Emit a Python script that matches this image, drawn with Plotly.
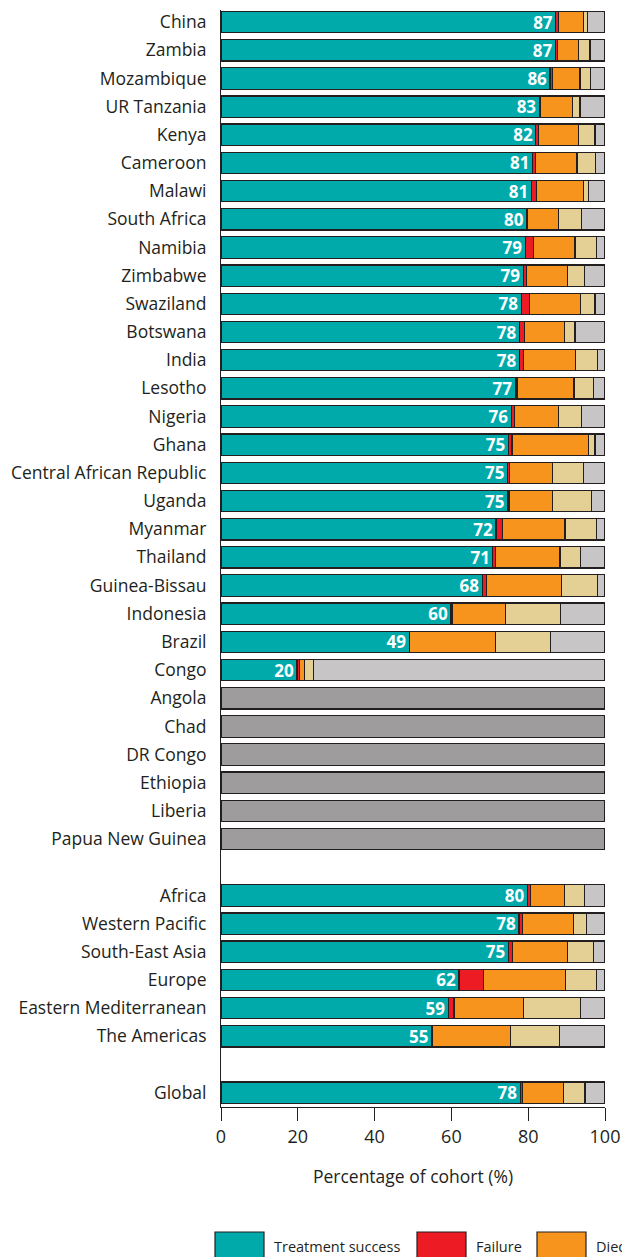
import plotly.graph_objects as go

# ---------------- data ----------------
countries = ["China", "Zambia", "Mozambique", "UR Tanzania", "Kenya", "Cameroon", "Malawi",
             "South Africa", "Namibia", "Zimbabwe", "Swaziland", "Botswana", "India", "Lesotho",
             "Nigeria", "Ghana", "Central African Republic", "Uganda", "Myanmar", "Thailand",
             "Guinea-Bissau", "Indonesia", "Brazil", "Congo", "Angola", "Chad", "DR Congo",
             "Ethiopia", "Liberia", "Papua New Guinea"]
regions = ["Africa", "Western Pacific", "South-East Asia", "Europe", "Eastern Mediterranean",
           "The Americas"]
global_row = ["Global"]

series_names = ["Treatment success", "Failure", "Died", "Lost to follow-up", "Not evaluated", "No data"]

# country values (None = no data)
success_c = [87.2, 87.1, 85.7, 82.9, 82.0, 81.1, 80.8, 79.6, 79.2, 78.7, 78.2, 77.7, 77.7, 76.6,
             75.6, 74.8, 74.6, 74.6, 71.6, 70.8, 68.0, 59.9, 49.0, 19.8, None, None, None, None, None, None]
failure_c = [0.6, 0.5, 0.7, 0.3, 0.7, 0.8, 1.3, 0.2, 2.1, 0.8, 2.1, 1.3, 1.0, 0.5,
             0.8, 1.0, 0.6, 0.4, 1.8, 0.7, 1.1, 0.4, 0.0, 0.6, None, None, None, None, None, None]
died_c = [6.7, 5.4, 7.1, 8.4, 10.4, 10.8, 12.3, 8.1, 10.9, 10.8, 13.4, 10.5, 13.7, 14.8,
          11.5, 19.8, 11.2, 11.3, 16.2, 16.8, 19.6, 13.8, 22.4, 1.3, None, None, None, None, None, None]
lost_c = [0.9, 3.1, 2.8, 1.9, 4.3, 4.9, 1.3, 5.9, 5.6, 4.4, 3.7, 2.7, 5.7, 5.1,
          6.0, 1.8, 8.0, 10.2, 8.1, 5.4, 9.3, 14.3, 14.4, 2.3, None, None, None, None, None, None]
noteval_c = [4.6, 3.9, 3.7, 6.5, 2.6, 2.4, 4.3, 6.2, 2.2, 5.3, 2.6, 7.8, 1.9, 3.0,
             6.1, 2.6, 5.6, 3.5, 2.3, 6.3, 2.0, 11.6, 14.2, 76.0, None, None, None, None, None, None]
nodata_c = [None] * 24 + [100, 100, 100, 100, 100, 100]

# regional + global values
success_r = [79.8, 77.6, 74.8, 62.0, 59.2, 54.8, 77.9]
failure_r = [0.8, 0.9, 1.1, 6.3, 1.5, 0.2, 0.7]
died_r = [8.9, 13.2, 14.3, 21.5, 18.0, 20.3, 10.5]
lost_r = [5.2, 3.5, 6.7, 7.9, 15.0, 12.8, 5.7]
noteval_r = [5.3, 4.8, 3.1, 2.3, 6.3, 11.9, 5.2]
nodata_r = [None] * 7

x_ticks = [0, 20, 40, 60, 80, 100]
x_title = "Percentage of cohort (%)"

colors = ["#00A9AA", "#ED1C24", "#F7941E", "#E4D094", "#C7C5C6", "#9E9C9D"]

# ---------------- assemble ----------------
labels = countries + regions + global_row
n_c, n_r = len(countries), len(regions)
ypos = list(range(n_c)) + [n_c + 1 + i for i in range(n_r)] + [n_c + n_r + 2]

series = [success_c + success_r, failure_c + failure_r, died_c + died_r,
          lost_c + lost_r, noteval_c + noteval_r, nodata_c + nodata_r]

FONT = "Open Sans"
INK = "#231F20"

fig = go.Figure()
for i, (name, vals) in enumerate(zip(series_names, series)):
    kw = {}
    if i == 0:
        kw = dict(text=[("%d" % round(v)) if v is not None else "" for v in vals],
                  textposition="inside", insidetextanchor="end", textangle=0,
                  textfont=dict(family=FONT, size=17, color="white", weight="bold"),
                  constraintext="none")
    fig.add_trace(go.Bar(
        name=name, y=ypos, x=vals, orientation="h", width=0.76,
        marker=dict(color=colors[i], line=dict(color=INK, width=1.2)),
        showlegend=False, hoverinfo="x+name", **kw))

W, H = 622, 1257
fig.update_layout(
    template="none",
    barmode="stack",
    width=W, height=H, autosize=False,
    margin=dict(l=221, r=17, t=10, b=150, autoexpand=False),
    paper_bgcolor="white", plot_bgcolor="white",
    font=dict(family=FONT, size=16, color=INK),
    xaxis=dict(range=[0, 100], tickvals=x_ticks, ticks="outside", ticklen=13,
               tickcolor=INK, tickwidth=1, showline=True, linecolor=INK,
               linewidth=1, showgrid=False, zeroline=False, ticklabeloverflow="allow",
               automargin=False,
               tickfont=dict(size=18, family=FONT, color=INK),
               title=dict(text=x_title, font=dict(size=17.5, family=FONT, color=INK), standoff=24)),
    yaxis=dict(range=[38.51, -0.43], tickvals=ypos, ticktext=labels, ticks="",
               showline=True, linecolor=INK, linewidth=1, showgrid=False,
               zeroline=False, ticklabelstandoff=10, automargin=False,
               tickfont=dict(size=17.5, family=FONT, color=INK)),
)

# manual legend (runs past the right edge, as in the reference)
plot_l, plot_w = 221, 384
plot_b, plot_h = 1107, 1097
def px(x):
    return (x - plot_l) / plot_w
def py(y):
    return (plot_b - y) / plot_h

leg_boxes = [215, 417, 537]
for name, col, bx in zip(series_names[:3], colors[:3], leg_boxes):
    fig.add_shape(type="rect", xref="paper", yref="paper",
                  x0=px(bx), x1=px(bx + 49), y0=py(1232), y1=py(1268),
                  fillcolor=col, line=dict(color=INK, width=1.2))
    fig.add_annotation(xref="paper", yref="paper", x=px(bx + 57), y=py(1246),
                       text=name, showarrow=False, xanchor="left", yanchor="middle",
                       font=dict(size=14.5, family=FONT, color=INK))

fig.write_html("out.html",
               config={"responsive": False, "displayModeBar": False},
               post_script="document.body.style.margin='0';document.body.style.overflow='hidden';")
